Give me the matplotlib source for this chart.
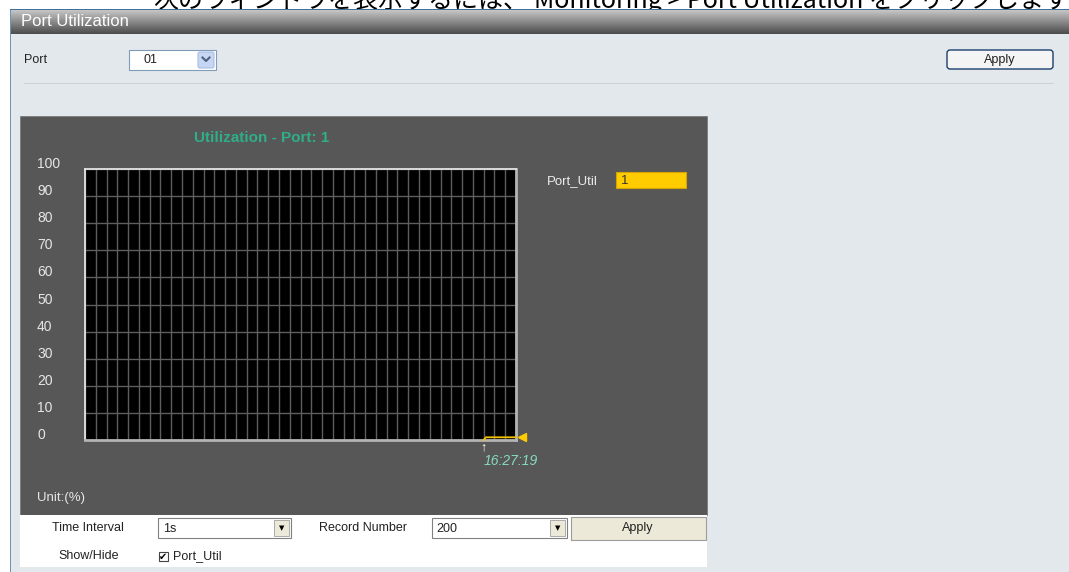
""" Port utilization monitor page - chart panel with its surrounding controls """

import numpy as np
import matplotlib
matplotlib.use("Agg")
import matplotlib.pyplot as plt
import matplotlib.transforms as mtransforms
from matplotlib.patches import Rectangle, FancyBboxPatch
from matplotlib.lines import Line2D
from matplotlib.colors import LinearSegmentedColormap

plt.rcParams['font.family'] = ['Liberation Sans', 'DejaVu Sans']

# data
port = "01"
port_no = 1
record_number = 200
time_interval = "1s"
y_ticks = [0, 10, 20, 30, 40, 50, 60, 70, 80, 90, 100]
samples = [185, 186, 187, 188, 189, 190, 191, 192, 193, 194, 195, 196, 197, 198, 199, 200]
util = [0, 1, 1, 1, 1, 1, 1, 1, 1, 1, 1, 1, 1, 1, 1, 1]
start_time = "16:27:19"
series_name = "Port_Util"

W, H = 1069, 572
fig = plt.figure(figsize=(W / 100, H / 100), dpi=100)
fig.patch.set_facecolor('white')
# pixel coords, origin top-left
px = mtransforms.Affine2D().scale(1 / W, -1 / H).translate(0, 1) + fig.transFigure
pt = 0.72  # points per pixel


def rect(x0, y0, x1, y1, fc, ec='none', lw=0, z=1, rnd=0):
    if rnd:
        p = FancyBboxPatch((x0, y0), x1 - x0, y1 - y0,
                           boxstyle="round,pad=0,rounding_size=%g" % rnd,
                           fc=fc, ec=ec, lw=lw, zorder=z)
    else:
        p = Rectangle((x0, y0), x1 - x0, y1 - y0, fc=fc, ec=ec, lw=lw, zorder=z)
    p.set_transform(px)
    fig.add_artist(p)


def label(x, y, s, **kw):
    kw.setdefault('va', 'center')
    kw.setdefault('zorder', 7)
    return fig.text(x, y, s, transform=px, **kw)


# cut-off sentence above the screenshot
jp = ['Noto Sans CJK JP', 'DejaVu Sans']
label(528, 8, "次のウィンドウを表示するには、", family=jp, fontsize=18,
      va='baseline', ha='right', zorder=0)
label(534, 8, "Monitoring > Port Utilization をクリックします", family=jp,
      fontsize=18, va='baseline', zorder=0)

# page frame
rect(10, 34, W, H, '#e3e8ec', z=1)
rect(10, 9, 11, H, '#6f93b8', z=6)
rect(10, 9, W, 10, '#3f6f9f', z=6)
hdr = fig.add_axes([10 / W, 1 - 34 / H, 1 - 10 / W, 24 / H], zorder=5)
grad = np.linspace(0, 1, 64).reshape(-1, 1)
hdr.imshow(grad, aspect='auto',
           cmap=LinearSegmentedColormap.from_list('hdr', ['#c6c6c6', '#4c4c4c']))
hdr.axis('off')
label(21, 21, "Port Utilization", color='white', fontsize=12, zorder=8)

# port selector row
label(24, 60, "Port", fontsize=9, color='#222222')
rect(129, 50, 216, 70, 'white', ec='#7f9db9', lw=0.8, z=2)
label(143, 60, port, fontsize=9, color='#222222')
rect(198, 52, 214, 68, '#c7d6f3', ec='#a9bde4', lw=0.8, z=3, rnd=2)
fig.add_artist(Line2D([202.5, 206, 209.5], [57.5, 61, 57.5], transform=px,
                      color='#4d6185', lw=1.5, zorder=4))
rect(947, 50, 1053, 69, '#f4f4f4', ec='#1c3f6e', lw=1, z=2, rnd=3)
label(1000, 60, "Apply", fontsize=9, ha='center', color='#222222')
rect(24, 82.5, 1054, 83.5, '#c9d2d9', z=2)

# chart panel
rect(20, 116, 707, 515, '#575757', ec='#7a7a7a', lw=0.6, z=2)
label(262, 138, "Utilization - Port: %d" % port_no, color='#2fae88',
      fontsize=11, weight='bold', ha='center')

ax = fig.add_axes([85 / W, 1 - 440 / H, 431 / W, 271 / H], zorder=3)
ax.set_facecolor('black')
ax.set_xlim(0, record_number)
ax.set_ylim(y_ticks[0], y_ticks[-1])
ax.set_xticks(np.arange(0, record_number + 1, 5))
ax.set_yticks(y_ticks)
ax.grid(True, color='#5e5e5e', lw=1.0)
ax.tick_params(length=0, labelbottom=False, labelleft=False)
for s in ['top', 'left']:
    ax.spines[s].set_color('#e4e4e4')
    ax.spines[s].set_linewidth(1.3)
for s in ['bottom', 'right']:
    ax.spines[s].set_color('#b4b4b4')
    ax.spines[s].set_linewidth(2)

for v in y_ticks:
    ax.annotate(str(v), xy=(0, v), xycoords=('axes fraction', 'data'),
                xytext=(-48 * pt, 5 * pt), textcoords='offset points',
                ha='left', va='center', fontsize=10, color='#e6e6e6',
                annotation_clip=False)

ax.plot(samples, util, color='#f2c200', lw=1.3, clip_on=False, zorder=5)
ax.plot(samples[-1], util[-1], marker='<', ms=6, color='#ffcc00', clip_on=False,
        zorder=5,
        transform=ax.transData + mtransforms.ScaledTranslation(6 / 100, 0, fig.dpi_scale_trans))
ax.annotate("↑", xy=(samples[0], 0), xytext=(0, -7 * pt), textcoords='offset points',
            ha='center', va='center', fontsize=9, color='white', annotation_clip=False)
ax.annotate(start_time, xy=(samples[0], 0), xytext=(0, -21 * pt),
            textcoords='offset points', ha='left', va='center', fontsize=10,
            style='italic', color='#86dcbc', annotation_clip=False)

label(547, 181, series_name, color='#ececec', fontsize=9.5)
rect(616, 172, 686, 188, '#ffcc00', ec='#d4a400', lw=0.8, z=3)
label(621, 181, str(util[-1]), fontsize=9.5, color='#333333')
label(37, 498, "Unit:(%)", color='#e6e6e6', fontsize=9.5)

# controls under the chart
rect(20, 515, 707, 567, 'white', z=2)
label(88, 528, "Time Interval", fontsize=9, ha='center', color='#222222')
rect(158, 518, 291, 538, 'white', ec='#808080', lw=0.8, z=3)
label(163, 529, time_interval, fontsize=9, color='#222222')
rect(274, 520, 289, 536, '#ece9d8', ec='#a0a0a0', lw=0.6, z=4)
label(281.5, 528, "▼", family='DejaVu Sans', fontsize=5, ha='center')
label(363, 528, "Record Number", fontsize=9, ha='center', color='#222222')
rect(432, 518, 567, 538, 'white', ec='#808080', lw=0.8, z=3)
label(436, 529, str(record_number), fontsize=9, color='#222222')
rect(550, 520, 565, 536, '#ece9d8', ec='#a0a0a0', lw=0.6, z=4)
label(557.5, 528, "▼", family='DejaVu Sans', fontsize=5, ha='center')
rect(571, 517, 706, 540, '#ece9d8', ec='#9c9c9c', lw=0.8, z=3)
label(638, 528, "Apply", fontsize=9, ha='center', color='#222222')

label(89, 556, "Show/Hide", fontsize=9, ha='center', color='#222222')
rect(158.5, 552, 167.5, 561, 'white', ec='#444444', lw=0.8, z=3)
label(163, 556.5, "✔", family='DejaVu Sans', fontsize=7, ha='center')
label(173, 556, series_name, fontsize=9, color='#222222')

fig.savefig("out.png", dpi=100, facecolor=fig.get_facecolor())
